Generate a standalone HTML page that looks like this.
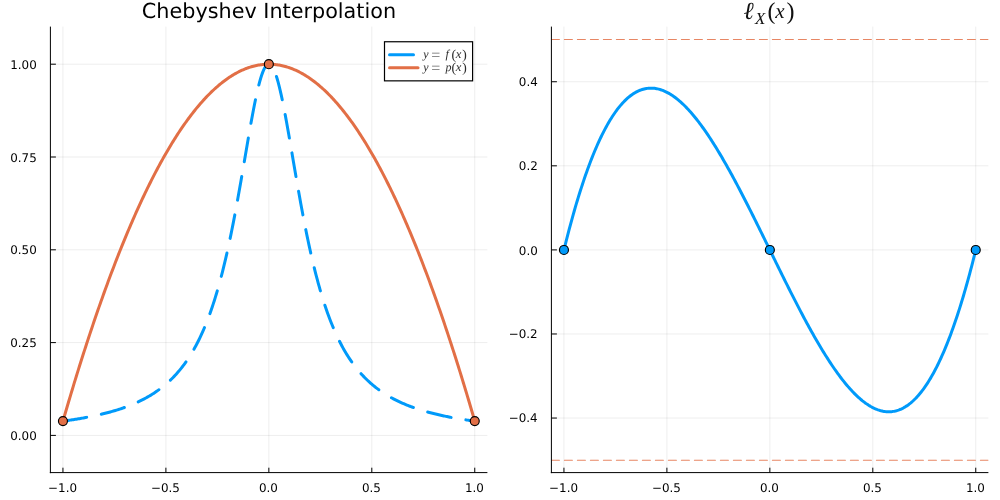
<!DOCTYPE html>
<html lang="en"><head><meta charset="utf-8"><title>Chebyshev Interpolation</title>
<style>html,body{margin:0;padding:0;background:#fff}body{width:1000px;height:500px;overflow:hidden}svg{display:block;text-rendering:geometricPrecision;will-change:transform}</style>
</head><body>
<svg width="1000" height="500" viewBox="0 0 1000 500">
<rect width="1000" height="500" fill="#fff"/>
<defs>
<clipPath id="cl"><rect x="50.4" y="26.6" width="437.0" height="446.0"/></clipPath>
<clipPath id="cr"><rect x="551.4" y="26.6" width="437.0" height="446.0"/></clipPath>
</defs>
<g stroke="#000" stroke-opacity="0.1" stroke-width="0.7" fill="none">
<line x1="62.95" y1="26.6" x2="62.95" y2="472.6"/>
<line x1="165.90" y1="26.6" x2="165.90" y2="472.6"/>
<line x1="268.85" y1="26.6" x2="268.85" y2="472.6"/>
<line x1="371.80" y1="26.6" x2="371.80" y2="472.6"/>
<line x1="474.75" y1="26.6" x2="474.75" y2="472.6"/>
<line x1="50.4" y1="435.40" x2="487.4" y2="435.40"/>
<line x1="50.4" y1="342.60" x2="487.4" y2="342.60"/>
<line x1="50.4" y1="249.80" x2="487.4" y2="249.80"/>
<line x1="50.4" y1="157.00" x2="487.4" y2="157.00"/>
<line x1="50.4" y1="64.20" x2="487.4" y2="64.20"/>
</g>
<g clip-path="url(#cl)" fill="none" stroke-linecap="round" stroke-linejoin="round">
<path d="M62.95,421.12 L63.98,420.98 L65.01,420.84 L66.04,420.70 L67.07,420.56 L68.10,420.41 L69.13,420.26 L70.16,420.11 L71.19,419.96 L72.22,419.80 L73.25,419.65 L74.27,419.49 L75.30,419.32 L76.33,419.16 L77.36,418.99 L78.39,418.82 L79.42,418.65 L80.45,418.47 L81.48,418.30 L82.51,418.12 L83.54,417.93 L84.57,417.75 L85.60,417.56 L86.63,417.36 L87.66,417.17 L88.69,416.97 L89.72,416.77 L90.75,416.56 L91.78,416.35 L92.81,416.14 L93.84,415.93 L94.86,415.71 L95.89,415.49 L96.92,415.26 L97.95,415.03 L98.98,414.80 L100.01,414.56 L101.04,414.32 L102.07,414.07 L103.10,413.82 L104.13,413.56 L105.16,413.31 L106.19,413.04 L107.22,412.77 L108.25,412.50 L109.28,412.22 L110.31,411.94 L111.34,411.65 L112.37,411.36 L113.40,411.06 L114.43,410.76 L115.45,410.45 L116.48,410.13 L117.51,409.81 L118.54,409.48 L119.57,409.15 L120.60,408.81 L121.63,408.46 L122.66,408.11 L123.69,407.75 L124.72,407.38 L125.75,407.01 L126.78,406.63 L127.81,406.24 L128.84,405.85 L129.87,405.44 L130.90,405.03 L131.93,404.61 L132.96,404.18 L133.99,403.74 L135.02,403.30 L136.04,402.84 L137.07,402.38 L138.10,401.90 L139.13,401.42 L140.16,400.92 L141.19,400.41 L142.22,399.90 L143.25,399.37 L144.28,398.83 L145.31,398.28 L146.34,397.72 L147.37,397.14 L148.40,396.55 L149.43,395.95 L150.46,395.34 L151.49,394.71 L152.52,394.07 L153.55,393.41 L154.58,392.74 L155.61,392.05 L156.63,391.34 L157.66,390.62 L158.69,389.89 L159.72,389.13 L160.75,388.36 L161.78,387.56 L162.81,386.75 L163.84,385.92 L164.87,385.07 L165.90,384.20 L166.93,383.31 L167.96,382.39 L168.99,381.45 L170.02,380.49 L171.05,379.50 L172.08,378.49 L173.11,377.45 L174.14,376.39 L175.17,375.29 L176.20,374.17 L177.22,373.02 L178.25,371.84 L179.28,370.63 L180.31,369.38 L181.34,368.10 L182.37,366.79 L183.40,365.44 L184.43,364.05 L185.46,362.62 L186.49,361.16 L187.52,359.65 L188.55,358.11 L189.58,356.52 L190.61,354.88 L191.64,353.20 L192.67,351.47 L193.70,349.68 L194.73,347.85 L195.76,345.97 L196.79,344.03 L197.81,342.03 L198.84,339.98 L199.87,337.86 L200.90,335.68 L201.93,333.44 L202.96,331.13 L203.99,328.75 L205.02,326.30 L206.05,323.78 L207.08,321.18 L208.11,318.51 L209.14,315.75 L210.17,312.92 L211.20,309.99 L212.23,306.98 L213.26,303.89 L214.29,300.69 L215.32,297.41 L216.35,294.02 L217.38,290.54 L218.40,286.96 L219.43,283.27 L220.46,279.47 L221.49,275.57 L222.52,271.56 L223.55,267.44 L224.58,263.20 L225.61,258.85 L226.64,254.38 L227.67,249.80 L228.70,245.10 L229.73,240.29 L230.76,235.36 L231.79,230.32 L232.82,225.16 L233.85,219.90 L234.88,214.53 L235.91,209.06 L236.94,203.49 L237.97,197.83 L238.99,192.09 L240.02,186.27 L241.05,180.39 L242.08,174.45 L243.11,168.47 L244.14,162.46 L245.17,156.43 L246.20,150.41 L247.23,144.41 L248.26,138.44 L249.29,132.53 L250.32,126.71 L251.35,120.99 L252.38,115.40 L253.41,109.96 L254.44,104.71 L255.47,99.66 L256.50,94.85 L257.53,90.30 L258.56,86.04 L259.58,82.09 L260.61,78.48 L261.64,75.23 L262.67,72.37 L263.70,69.91 L264.73,67.88 L265.76,66.28 L266.79,65.13 L267.82,64.43 L268.85,64.20 L269.88,64.43 L270.91,65.13 L271.94,66.28 L272.97,67.88 L274.00,69.91 L275.03,72.37 L276.06,75.23 L277.09,78.48 L278.12,82.09 L279.15,86.04 L280.17,90.30 L281.20,94.85 L282.23,99.66 L283.26,104.71 L284.29,109.96 L285.32,115.40 L286.35,120.99 L287.38,126.71 L288.41,132.53 L289.44,138.44 L290.47,144.41 L291.50,150.41 L292.53,156.43 L293.56,162.46 L294.59,168.47 L295.62,174.45 L296.65,180.39 L297.68,186.27 L298.71,192.09 L299.74,197.83 L300.76,203.49 L301.79,209.06 L302.82,214.53 L303.85,219.90 L304.88,225.16 L305.91,230.32 L306.94,235.36 L307.97,240.29 L309.00,245.10 L310.03,249.80 L311.06,254.38 L312.09,258.85 L313.12,263.20 L314.15,267.44 L315.18,271.56 L316.21,275.57 L317.24,279.47 L318.27,283.27 L319.30,286.96 L320.33,290.54 L321.35,294.02 L322.38,297.41 L323.41,300.69 L324.44,303.89 L325.47,306.98 L326.50,309.99 L327.53,312.92 L328.56,315.75 L329.59,318.51 L330.62,321.18 L331.65,323.78 L332.68,326.30 L333.71,328.75 L334.74,331.13 L335.77,333.44 L336.80,335.68 L337.83,337.86 L338.86,339.98 L339.89,342.03 L340.92,344.03 L341.94,345.97 L342.97,347.85 L344.00,349.68 L345.03,351.47 L346.06,353.20 L347.09,354.88 L348.12,356.52 L349.15,358.11 L350.18,359.65 L351.21,361.16 L352.24,362.62 L353.27,364.05 L354.30,365.44 L355.33,366.79 L356.36,368.10 L357.39,369.38 L358.42,370.63 L359.45,371.84 L360.48,373.02 L361.50,374.17 L362.53,375.29 L363.56,376.39 L364.59,377.45 L365.62,378.49 L366.65,379.50 L367.68,380.49 L368.71,381.45 L369.74,382.39 L370.77,383.31 L371.80,384.20 L372.83,385.07 L373.86,385.92 L374.89,386.75 L375.92,387.56 L376.95,388.36 L377.98,389.13 L379.01,389.89 L380.04,390.62 L381.07,391.34 L382.10,392.05 L383.12,392.74 L384.15,393.41 L385.18,394.07 L386.21,394.71 L387.24,395.34 L388.27,395.95 L389.30,396.55 L390.33,397.14 L391.36,397.72 L392.39,398.28 L393.42,398.83 L394.45,399.37 L395.48,399.90 L396.51,400.41 L397.54,400.92 L398.57,401.42 L399.60,401.90 L400.63,402.38 L401.66,402.84 L402.69,403.30 L403.71,403.74 L404.74,404.18 L405.77,404.61 L406.80,405.03 L407.83,405.44 L408.86,405.85 L409.89,406.24 L410.92,406.63 L411.95,407.01 L412.98,407.38 L414.01,407.75 L415.04,408.11 L416.07,408.46 L417.10,408.81 L418.13,409.15 L419.16,409.48 L420.19,409.81 L421.22,410.13 L422.25,410.45 L423.28,410.76 L424.30,411.06 L425.33,411.36 L426.36,411.65 L427.39,411.94 L428.42,412.22 L429.45,412.50 L430.48,412.77 L431.51,413.04 L432.54,413.31 L433.57,413.56 L434.60,413.82 L435.63,414.07 L436.66,414.32 L437.69,414.56 L438.72,414.80 L439.75,415.03 L440.78,415.26 L441.81,415.49 L442.84,415.71 L443.87,415.93 L444.89,416.14 L445.92,416.35 L446.95,416.56 L447.98,416.77 L449.01,416.97 L450.04,417.17 L451.07,417.36 L452.10,417.56 L453.13,417.75 L454.16,417.93 L455.19,418.12 L456.22,418.30 L457.25,418.47 L458.28,418.65 L459.31,418.82 L460.34,418.99 L461.37,419.16 L462.40,419.32 L463.43,419.49 L464.46,419.65 L465.48,419.80 L466.51,419.96 L467.54,420.11 L468.57,420.26 L469.60,420.41 L470.63,420.56 L471.66,420.70 L472.69,420.84 L473.72,420.98 L474.75,421.12" stroke="#009AFA" stroke-width="3" stroke-dasharray="24 15"/>
<path d="M62.95,421.12 L63.98,417.56 L65.01,414.02 L66.04,410.50 L67.07,406.99 L68.10,403.50 L69.13,400.03 L70.16,396.58 L71.19,393.14 L72.22,389.72 L73.25,386.32 L74.27,382.94 L75.30,379.58 L76.33,376.23 L77.36,372.90 L78.39,369.59 L79.42,366.30 L80.45,363.02 L81.48,359.77 L82.51,356.53 L83.54,353.31 L84.57,350.10 L85.60,346.92 L86.63,343.75 L87.66,340.60 L88.69,337.47 L89.72,334.36 L90.75,331.26 L91.78,328.18 L92.81,325.12 L93.84,322.08 L94.86,319.05 L95.89,316.04 L96.92,313.06 L97.95,310.08 L98.98,307.13 L100.01,304.20 L101.04,301.28 L102.07,298.38 L103.10,295.50 L104.13,292.63 L105.16,289.78 L106.19,286.96 L107.22,284.14 L108.25,281.35 L109.28,278.58 L110.31,275.82 L111.34,273.08 L112.37,270.36 L113.40,267.66 L114.43,264.97 L115.45,262.30 L116.48,259.65 L117.51,257.02 L118.54,254.40 L119.57,251.81 L120.60,249.23 L121.63,246.67 L122.66,244.12 L123.69,241.60 L124.72,239.09 L125.75,236.60 L126.78,234.13 L127.81,231.68 L128.84,229.24 L129.87,226.82 L130.90,224.42 L131.93,222.04 L132.96,219.68 L133.99,217.33 L135.02,215.00 L136.04,212.69 L137.07,210.40 L138.10,208.12 L139.13,205.86 L140.16,203.62 L141.19,201.40 L142.22,199.20 L143.25,197.01 L144.28,194.84 L145.31,192.69 L146.34,190.56 L147.37,188.44 L148.40,186.35 L149.43,184.27 L150.46,182.21 L151.49,180.16 L152.52,178.14 L153.55,176.13 L154.58,174.14 L155.61,172.17 L156.63,170.22 L157.66,168.28 L158.69,166.36 L159.72,164.46 L160.75,162.58 L161.78,160.71 L162.81,158.86 L163.84,157.04 L164.87,155.22 L165.90,153.43 L166.93,151.66 L167.96,149.90 L168.99,148.16 L170.02,146.44 L171.05,144.73 L172.08,143.04 L173.11,141.38 L174.14,139.72 L175.17,138.09 L176.20,136.48 L177.22,134.88 L178.25,133.30 L179.28,131.74 L180.31,130.20 L181.34,128.67 L182.37,127.16 L183.40,125.67 L184.43,124.20 L185.46,122.74 L186.49,121.31 L187.52,119.89 L188.55,118.49 L189.58,117.10 L190.61,115.74 L191.64,114.39 L192.67,113.06 L193.70,111.75 L194.73,110.46 L195.76,109.18 L196.79,107.92 L197.81,106.68 L198.84,105.46 L199.87,104.26 L200.90,103.07 L201.93,101.90 L202.96,100.75 L203.99,99.62 L205.02,98.50 L206.05,97.40 L207.08,96.32 L208.11,95.26 L209.14,94.22 L210.17,93.19 L211.20,92.18 L212.23,91.19 L213.26,90.22 L214.29,89.26 L215.32,88.33 L216.35,87.41 L217.38,86.51 L218.40,85.62 L219.43,84.76 L220.46,83.91 L221.49,83.08 L222.52,82.27 L223.55,81.48 L224.58,80.70 L225.61,79.94 L226.64,79.20 L227.67,78.48 L228.70,77.77 L229.73,77.08 L230.76,76.42 L231.79,75.76 L232.82,75.13 L233.85,74.52 L234.88,73.92 L235.91,73.34 L236.94,72.78 L237.97,72.23 L238.99,71.70 L240.02,71.20 L241.05,70.70 L242.08,70.23 L243.11,69.78 L244.14,69.34 L245.17,68.92 L246.20,68.52 L247.23,68.14 L248.26,67.77 L249.29,67.42 L250.32,67.09 L251.35,66.78 L252.38,66.48 L253.41,66.21 L254.44,65.95 L255.47,65.71 L256.50,65.48 L257.53,65.28 L258.56,65.09 L259.58,64.92 L260.61,64.77 L261.64,64.64 L262.67,64.52 L263.70,64.42 L264.73,64.34 L265.76,64.28 L266.79,64.24 L267.82,64.21 L268.85,64.20 L269.88,64.21 L270.91,64.24 L271.94,64.28 L272.97,64.34 L274.00,64.42 L275.03,64.52 L276.06,64.64 L277.09,64.77 L278.12,64.92 L279.15,65.09 L280.17,65.28 L281.20,65.48 L282.23,65.71 L283.26,65.95 L284.29,66.21 L285.32,66.48 L286.35,66.78 L287.38,67.09 L288.41,67.42 L289.44,67.77 L290.47,68.14 L291.50,68.52 L292.53,68.92 L293.56,69.34 L294.59,69.78 L295.62,70.23 L296.65,70.70 L297.68,71.20 L298.71,71.70 L299.74,72.23 L300.76,72.78 L301.79,73.34 L302.82,73.92 L303.85,74.52 L304.88,75.13 L305.91,75.76 L306.94,76.42 L307.97,77.08 L309.00,77.77 L310.03,78.48 L311.06,79.20 L312.09,79.94 L313.12,80.70 L314.15,81.48 L315.18,82.27 L316.21,83.08 L317.24,83.91 L318.27,84.76 L319.30,85.62 L320.33,86.51 L321.35,87.41 L322.38,88.33 L323.41,89.26 L324.44,90.22 L325.47,91.19 L326.50,92.18 L327.53,93.19 L328.56,94.22 L329.59,95.26 L330.62,96.32 L331.65,97.40 L332.68,98.50 L333.71,99.62 L334.74,100.75 L335.77,101.90 L336.80,103.07 L337.83,104.26 L338.86,105.46 L339.89,106.68 L340.92,107.92 L341.94,109.18 L342.97,110.46 L344.00,111.75 L345.03,113.06 L346.06,114.39 L347.09,115.74 L348.12,117.10 L349.15,118.49 L350.18,119.89 L351.21,121.31 L352.24,122.74 L353.27,124.20 L354.30,125.67 L355.33,127.16 L356.36,128.67 L357.39,130.20 L358.42,131.74 L359.45,133.30 L360.48,134.88 L361.50,136.48 L362.53,138.09 L363.56,139.72 L364.59,141.38 L365.62,143.04 L366.65,144.73 L367.68,146.44 L368.71,148.16 L369.74,149.90 L370.77,151.66 L371.80,153.43 L372.83,155.22 L373.86,157.04 L374.89,158.86 L375.92,160.71 L376.95,162.58 L377.98,164.46 L379.01,166.36 L380.04,168.28 L381.07,170.22 L382.10,172.17 L383.12,174.14 L384.15,176.13 L385.18,178.14 L386.21,180.16 L387.24,182.21 L388.27,184.27 L389.30,186.35 L390.33,188.44 L391.36,190.56 L392.39,192.69 L393.42,194.84 L394.45,197.01 L395.48,199.20 L396.51,201.40 L397.54,203.62 L398.57,205.86 L399.60,208.12 L400.63,210.40 L401.66,212.69 L402.69,215.00 L403.71,217.33 L404.74,219.68 L405.77,222.04 L406.80,224.42 L407.83,226.82 L408.86,229.24 L409.89,231.68 L410.92,234.13 L411.95,236.60 L412.98,239.09 L414.01,241.60 L415.04,244.12 L416.07,246.67 L417.10,249.23 L418.13,251.81 L419.16,254.40 L420.19,257.02 L421.22,259.65 L422.25,262.30 L423.28,264.97 L424.30,267.66 L425.33,270.36 L426.36,273.08 L427.39,275.82 L428.42,278.58 L429.45,281.35 L430.48,284.14 L431.51,286.96 L432.54,289.78 L433.57,292.63 L434.60,295.50 L435.63,298.38 L436.66,301.28 L437.69,304.20 L438.72,307.13 L439.75,310.08 L440.78,313.06 L441.81,316.04 L442.84,319.05 L443.87,322.08 L444.89,325.12 L445.92,328.18 L446.95,331.26 L447.98,334.36 L449.01,337.47 L450.04,340.60 L451.07,343.75 L452.10,346.92 L453.13,350.10 L454.16,353.31 L455.19,356.53 L456.22,359.77 L457.25,363.02 L458.28,366.30 L459.31,369.59 L460.34,372.90 L461.37,376.23 L462.40,379.58 L463.43,382.94 L464.46,386.32 L465.48,389.72 L466.51,393.14 L467.54,396.58 L468.57,400.03 L469.60,403.50 L470.63,406.99 L471.66,410.50 L472.69,414.02 L473.72,417.56 L474.75,421.12" stroke="#E26F46" stroke-width="3"/>
<circle cx="62.95" cy="421.12" r="4.5" fill="#E26F46" stroke="#000" stroke-width="1.15"/>
<circle cx="268.85" cy="64.20" r="4.5" fill="#E26F46" stroke="#000" stroke-width="1.15"/>
<circle cx="474.75" cy="421.12" r="4.5" fill="#E26F46" stroke="#000" stroke-width="1.15"/>
</g>
<g stroke="#000" stroke-width="1" fill="none">
<line x1="50.4" y1="26.6" x2="50.4" y2="473.15000000000003"/>
<line x1="49.85" y1="472.6" x2="487.4" y2="472.6"/>
<line x1="62.95" y1="472.6" x2="62.95" y2="467.70000000000005"/>
<line x1="165.90" y1="472.6" x2="165.90" y2="467.70000000000005"/>
<line x1="268.85" y1="472.6" x2="268.85" y2="467.70000000000005"/>
<line x1="371.80" y1="472.6" x2="371.80" y2="467.70000000000005"/>
<line x1="474.75" y1="472.6" x2="474.75" y2="467.70000000000005"/>
<line x1="50.4" y1="435.40" x2="55.9" y2="435.40"/>
<line x1="50.4" y1="342.60" x2="55.9" y2="342.60"/>
<line x1="50.4" y1="249.80" x2="55.9" y2="249.80"/>
<line x1="50.4" y1="157.00" x2="55.9" y2="157.00"/>
<line x1="50.4" y1="64.20" x2="55.9" y2="64.20"/>
</g>
<g font-family="'DejaVu Sans', 'Liberation Sans', sans-serif" font-size="11.9" fill="#000">
<text x="62.55" y="491.55" text-anchor="middle">−1.0</text>
<text x="165.50" y="491.55" text-anchor="middle">−0.5</text>
<text x="268.45" y="491.55" text-anchor="middle">0.0</text>
<text x="371.40" y="491.55" text-anchor="middle">0.5</text>
<text x="474.35" y="491.55" text-anchor="middle">1.0</text>
<text x="36.75" y="440.00" text-anchor="end">0.00</text>
<text x="36.75" y="347.20" text-anchor="end">0.25</text>
<text x="36.75" y="254.40" text-anchor="end">0.50</text>
<text x="36.75" y="161.60" text-anchor="end">0.75</text>
<text x="36.75" y="68.80" text-anchor="end">1.00</text>
</g>
<text x="268.95" y="18.4" text-anchor="middle" font-family="'DejaVu Sans', 'Liberation Sans', sans-serif" font-size="20.76" fill="#000">Chebyshev Interpolation</text>
<rect x="384.5" y="41.75" width="88.1" height="39.1" fill="#fff" stroke="#000" stroke-width="1.2"/>
<g fill="none" stroke-linecap="round" stroke-width="3"><path d="M389.5,54.8 H419" stroke="#009AFA" stroke-dasharray="24 15"/><path d="M389.5,67.8 H418" stroke="#E26F46"/></g>
<text y="58.4" font-family="'Liberation Serif', 'DejaVu Serif', serif" font-size="12" fill="#2a2a2a"><tspan x="423.2" font-style="italic">y</tspan><tspan x="431.2" font-size="16" dy="1.2" fill="#6a6a6a">=</tspan><tspan x="445.4" dy="-1.2" font-style="italic">f</tspan><tspan x="451.5" font-size="13.6" dy="0.35">(</tspan><tspan x="455.7" dy="-0.35" font-style="italic" font-size="12.6">x</tspan><tspan x="462.3" font-size="13.6" dy="0.35">)</tspan></text>
<text y="71.4" font-family="'Liberation Serif', 'DejaVu Serif', serif" font-size="12" fill="#2a2a2a"><tspan x="423.2" font-style="italic">y</tspan><tspan x="431.2" font-size="16" dy="1.2" fill="#6a6a6a">=</tspan><tspan x="445.6" dy="-1.2" font-style="italic">p</tspan><tspan x="451.5" font-size="13.6" dy="0.35">(</tspan><tspan x="455.7" dy="-0.35" font-style="italic" font-size="12.6">x</tspan><tspan x="462.3" font-size="13.6" dy="0.35">)</tspan></text>
<g stroke="#000" stroke-opacity="0.1" stroke-width="0.7" fill="none">
<line x1="563.95" y1="26.6" x2="563.95" y2="472.6"/>
<line x1="666.90" y1="26.6" x2="666.90" y2="472.6"/>
<line x1="769.85" y1="26.6" x2="769.85" y2="472.6"/>
<line x1="872.80" y1="26.6" x2="872.80" y2="472.6"/>
<line x1="975.75" y1="26.6" x2="975.75" y2="472.6"/>
<line x1="551.4" y1="418.06" x2="988.4" y2="418.06"/>
<line x1="551.4" y1="333.98" x2="988.4" y2="333.98"/>
<line x1="551.4" y1="249.90" x2="988.4" y2="249.90"/>
<line x1="551.4" y1="165.82" x2="988.4" y2="165.82"/>
<line x1="551.4" y1="81.74" x2="988.4" y2="81.74"/>
</g>
<g clip-path="url(#cr)" fill="none" stroke-linecap="round" stroke-linejoin="round">
<path d="M551.4,39.58 H988.4" stroke="#E26F46" stroke-opacity="0.84" stroke-width="1.05" stroke-dasharray="8 5"/>
<path d="M551.4,460.20 H988.4" stroke="#E26F46" stroke-opacity="0.84" stroke-width="1.05" stroke-dasharray="8 5"/>
<path d="M563.95,249.95 L564.98,245.78 L566.01,241.67 L567.04,237.62 L568.07,233.64 L569.10,229.71 L570.13,225.85 L571.16,222.05 L572.19,218.31 L573.22,214.63 L574.25,211.01 L575.27,207.45 L576.30,203.95 L577.33,200.51 L578.36,197.13 L579.39,193.81 L580.42,190.54 L581.45,187.34 L582.48,184.19 L583.51,181.10 L584.54,178.06 L585.57,175.08 L586.60,172.16 L587.63,169.30 L588.66,166.49 L589.69,163.74 L590.72,161.04 L591.75,158.39 L592.78,155.80 L593.81,153.27 L594.84,150.79 L595.86,148.36 L596.89,145.99 L597.92,143.67 L598.95,141.40 L599.98,139.18 L601.01,137.02 L602.04,134.90 L603.07,132.84 L604.10,130.83 L605.13,128.87 L606.16,126.97 L607.19,125.11 L608.22,123.30 L609.25,121.54 L610.28,119.83 L611.31,118.17 L612.34,116.56 L613.37,114.99 L614.40,113.48 L615.42,112.01 L616.45,110.58 L617.48,109.21 L618.51,107.88 L619.54,106.60 L620.57,105.37 L621.60,104.18 L622.63,103.03 L623.66,101.93 L624.69,100.88 L625.72,99.87 L626.75,98.90 L627.78,97.98 L628.81,97.10 L629.84,96.27 L630.87,95.47 L631.90,94.72 L632.93,94.02 L633.96,93.35 L634.99,92.73 L636.02,92.14 L637.04,91.60 L638.07,91.10 L639.10,90.64 L640.13,90.22 L641.16,89.84 L642.19,89.50 L643.22,89.19 L644.25,88.93 L645.28,88.70 L646.31,88.52 L647.34,88.37 L648.37,88.26 L649.40,88.18 L650.43,88.14 L651.46,88.14 L652.49,88.18 L653.52,88.25 L654.55,88.35 L655.58,88.50 L656.61,88.67 L657.63,88.89 L658.66,89.13 L659.69,89.41 L660.72,89.73 L661.75,90.07 L662.78,90.45 L663.81,90.87 L664.84,91.31 L665.87,91.79 L666.90,92.30 L667.93,92.84 L668.96,93.41 L669.99,94.02 L671.02,94.65 L672.05,95.32 L673.08,96.01 L674.11,96.73 L675.14,97.49 L676.17,98.27 L677.20,99.08 L678.22,99.92 L679.25,100.79 L680.28,101.68 L681.31,102.60 L682.34,103.55 L683.37,104.53 L684.40,105.53 L685.43,106.56 L686.46,107.62 L687.49,108.70 L688.52,109.80 L689.55,110.93 L690.58,112.09 L691.61,113.27 L692.64,114.47 L693.67,115.70 L694.70,116.95 L695.73,118.22 L696.76,119.52 L697.79,120.83 L698.81,122.18 L699.84,123.54 L700.87,124.92 L701.90,126.33 L702.93,127.75 L703.96,129.20 L704.99,130.66 L706.02,132.15 L707.05,133.66 L708.08,135.18 L709.11,136.72 L710.14,138.29 L711.17,139.87 L712.20,141.47 L713.23,143.08 L714.26,144.72 L715.29,146.37 L716.32,148.03 L717.35,149.72 L718.38,151.42 L719.40,153.13 L720.43,154.87 L721.46,156.61 L722.49,158.37 L723.52,160.15 L724.55,161.94 L725.58,163.74 L726.61,165.56 L727.64,167.39 L728.67,169.23 L729.70,171.09 L730.73,172.96 L731.76,174.84 L732.79,176.73 L733.82,178.63 L734.85,180.55 L735.88,182.47 L736.91,184.41 L737.94,186.35 L738.97,188.31 L739.99,190.27 L741.02,192.25 L742.05,194.23 L743.08,196.22 L744.11,198.22 L745.14,200.23 L746.17,202.24 L747.20,204.27 L748.23,206.29 L749.26,208.33 L750.29,210.37 L751.32,212.42 L752.35,214.47 L753.38,216.53 L754.41,218.60 L755.44,220.67 L756.47,222.74 L757.50,224.82 L758.53,226.90 L759.56,228.98 L760.58,231.07 L761.61,233.16 L762.64,235.25 L763.67,237.35 L764.70,239.45 L765.73,241.55 L766.76,243.65 L767.79,245.75 L768.82,247.85 L769.85,249.95 L770.88,252.05 L771.91,254.15 L772.94,256.25 L773.97,258.35 L775.00,260.45 L776.03,262.55 L777.06,264.65 L778.09,266.74 L779.12,268.83 L780.14,270.92 L781.17,273.00 L782.20,275.08 L783.23,277.16 L784.26,279.23 L785.29,281.30 L786.32,283.37 L787.35,285.43 L788.38,287.48 L789.41,289.53 L790.44,291.57 L791.47,293.61 L792.50,295.63 L793.53,297.66 L794.56,299.67 L795.59,301.68 L796.62,303.68 L797.65,305.67 L798.68,307.65 L799.71,309.63 L800.74,311.59 L801.76,313.55 L802.79,315.49 L803.82,317.43 L804.85,319.35 L805.88,321.27 L806.91,323.17 L807.94,325.06 L808.97,326.94 L810.00,328.81 L811.03,330.67 L812.06,332.51 L813.09,334.34 L814.12,336.16 L815.15,337.96 L816.18,339.75 L817.21,341.53 L818.24,343.29 L819.27,345.03 L820.30,346.77 L821.33,348.48 L822.35,350.18 L823.38,351.87 L824.41,353.53 L825.44,355.18 L826.47,356.82 L827.50,358.43 L828.53,360.03 L829.56,361.61 L830.59,363.18 L831.62,364.72 L832.65,366.24 L833.68,367.75 L834.71,369.24 L835.74,370.70 L836.77,372.15 L837.80,373.57 L838.83,374.98 L839.86,376.36 L840.89,377.72 L841.92,379.07 L842.94,380.38 L843.97,381.68 L845.00,382.95 L846.03,384.20 L847.06,385.43 L848.09,386.63 L849.12,387.81 L850.15,388.97 L851.18,390.10 L852.21,391.20 L853.24,392.28 L854.27,393.34 L855.30,394.37 L856.33,395.37 L857.36,396.35 L858.39,397.30 L859.42,398.22 L860.45,399.11 L861.48,399.98 L862.50,400.82 L863.53,401.63 L864.56,402.41 L865.59,403.17 L866.62,403.89 L867.65,404.58 L868.68,405.25 L869.71,405.88 L870.74,406.49 L871.77,407.06 L872.80,407.60 L873.83,408.11 L874.86,408.59 L875.89,409.03 L876.92,409.45 L877.95,409.83 L878.98,410.17 L880.01,410.49 L881.04,410.77 L882.07,411.01 L883.10,411.23 L884.12,411.40 L885.15,411.55 L886.18,411.65 L887.21,411.72 L888.24,411.76 L889.27,411.76 L890.30,411.72 L891.33,411.64 L892.36,411.53 L893.39,411.38 L894.42,411.20 L895.45,410.97 L896.48,410.71 L897.51,410.40 L898.54,410.06 L899.57,409.68 L900.60,409.26 L901.63,408.80 L902.66,408.30 L903.69,407.76 L904.71,407.17 L905.74,406.55 L906.77,405.88 L907.80,405.18 L908.83,404.43 L909.86,403.63 L910.89,402.80 L911.92,401.92 L912.95,401.00 L913.98,400.03 L915.01,399.02 L916.04,397.97 L917.07,396.87 L918.10,395.72 L919.13,394.53 L920.16,393.30 L921.19,392.02 L922.22,390.69 L923.25,389.32 L924.28,387.89 L925.30,386.42 L926.33,384.91 L927.36,383.34 L928.39,381.73 L929.42,380.07 L930.45,378.36 L931.48,376.60 L932.51,374.79 L933.54,372.93 L934.57,371.03 L935.60,369.07 L936.63,367.06 L937.66,365.00 L938.69,362.88 L939.72,360.72 L940.75,358.50 L941.78,356.23 L942.81,353.91 L943.84,351.54 L944.87,349.11 L945.89,346.63 L946.92,344.10 L947.95,341.51 L948.98,338.86 L950.01,336.16 L951.04,333.41 L952.07,330.60 L953.10,327.74 L954.13,324.82 L955.16,321.84 L956.19,318.80 L957.22,315.71 L958.25,312.56 L959.28,309.36 L960.31,306.09 L961.34,302.77 L962.37,299.39 L963.40,295.95 L964.43,292.45 L965.46,288.89 L966.48,285.27 L967.51,281.59 L968.54,277.85 L969.57,274.05 L970.60,270.19 L971.63,266.26 L972.66,262.28 L973.69,258.23 L974.72,254.12 L975.75,249.95" stroke="#009AFA" stroke-width="3"/>
<circle cx="563.95" cy="249.95" r="4.5" fill="#009AFA" stroke="#000" stroke-width="1.15"/>
<circle cx="769.85" cy="249.95" r="4.5" fill="#009AFA" stroke="#000" stroke-width="1.15"/>
<circle cx="975.75" cy="249.95" r="4.5" fill="#009AFA" stroke="#000" stroke-width="1.15"/>
</g>
<g stroke="#000" stroke-width="1" fill="none">
<line x1="551.4" y1="26.6" x2="551.4" y2="473.15000000000003"/>
<line x1="550.85" y1="472.6" x2="988.4" y2="472.6"/>
<line x1="563.95" y1="472.6" x2="563.95" y2="467.70000000000005"/>
<line x1="666.90" y1="472.6" x2="666.90" y2="467.70000000000005"/>
<line x1="769.85" y1="472.6" x2="769.85" y2="467.70000000000005"/>
<line x1="872.80" y1="472.6" x2="872.80" y2="467.70000000000005"/>
<line x1="975.75" y1="472.6" x2="975.75" y2="467.70000000000005"/>
<line x1="551.4" y1="418.06" x2="556.9" y2="418.06"/>
<line x1="551.4" y1="333.98" x2="556.9" y2="333.98"/>
<line x1="551.4" y1="249.90" x2="556.9" y2="249.90"/>
<line x1="551.4" y1="165.82" x2="556.9" y2="165.82"/>
<line x1="551.4" y1="81.74" x2="556.9" y2="81.74"/>
</g>
<g font-family="'DejaVu Sans', 'Liberation Sans', sans-serif" font-size="11.9" fill="#000">
<text x="563.55" y="491.55" text-anchor="middle">−1.0</text>
<text x="666.50" y="491.55" text-anchor="middle">−0.5</text>
<text x="769.45" y="491.55" text-anchor="middle">0.0</text>
<text x="872.40" y="491.55" text-anchor="middle">0.5</text>
<text x="975.35" y="491.55" text-anchor="middle">1.0</text>
<text x="537.60" y="422.31" text-anchor="end">−0.4</text>
<text x="537.60" y="338.23" text-anchor="end">−0.2</text>
<text x="537.75" y="254.50" text-anchor="end">0.0</text>
<text x="537.75" y="170.42" text-anchor="end">0.2</text>
<text x="537.75" y="86.34" text-anchor="end">0.4</text>
</g>
<text y="18.6" font-family="'Liberation Serif', 'DejaVu Serif', serif" font-size="21" fill="#111"><tspan x="743.4" y="18.9" font-style="italic" font-size="24.5">ℓ</tspan><tspan x="754.9" y="24.3" font-style="italic" font-size="17">X</tspan><tspan x="767.4" y="18.6" font-size="24">(</tspan><tspan x="775.2" y="18.4" font-style="italic">x</tspan><tspan x="786.4" y="18.6" font-size="24">)</tspan></text>
</svg>
</body></html>
